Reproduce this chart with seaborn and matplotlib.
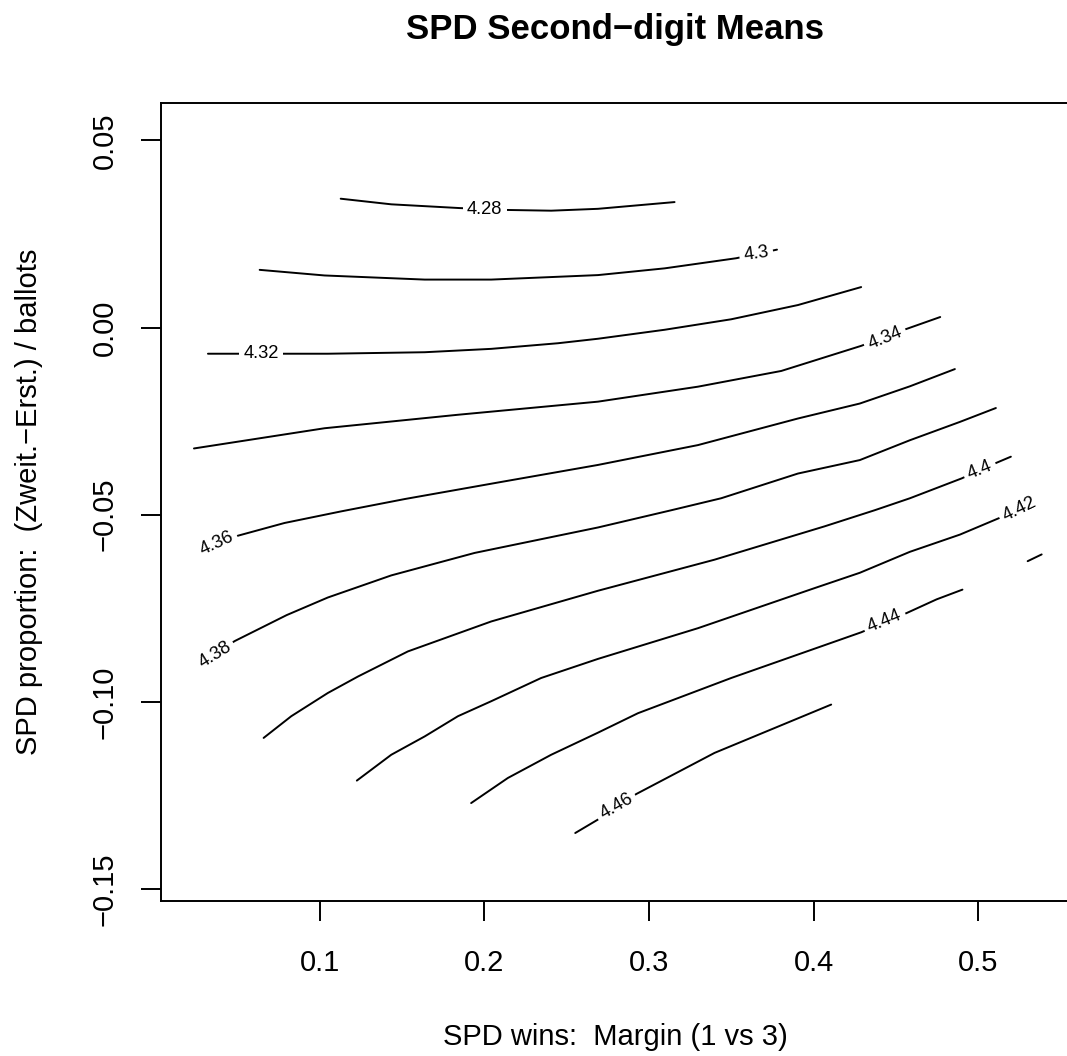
import pandas as pd
import matplotlib
matplotlib.use("Agg")
from matplotlib import pyplot as plt
import seaborn as sns

# contour levels of the second-digit mean
levels = [4.28, 4.30, 4.32, 4.34, 4.36, 4.38, 4.40, 4.42, 4.44, 4.46]

# one polyline per level: x = SPD margin, y = proportion difference
x_428 = [0.1128, 0.1435, 0.1850, 0.2131, 0.2406, 0.2690, 0.3155]
y_428 = [0.0344, 0.0329, 0.0319, 0.0314, 0.0312, 0.0317, 0.0335]

x_430 = [0.0636, 0.1030, 0.1638, 0.2042, 0.2690, 0.3095, 0.3529, 0.3777]
y_430 = [0.0154, 0.0139, 0.0128, 0.0128, 0.0140, 0.0158, 0.0185, 0.0208]

x_432 = [0.0322, 0.0787, 0.1050, 0.1638, 0.2042, 0.2447, 0.2690, 0.3095, 0.3499, 0.3904, 0.4288]
y_432 = [-0.0070, -0.0070, -0.0070, -0.0066, -0.0057, -0.0042, -0.0030, -0.0006, 0.0022, 0.0060, 0.0108]

x_434 = [0.0237, 0.1030, 0.1840, 0.2690, 0.3297, 0.3803, 0.4288, 0.4562, 0.4768]
y_434 = [-0.0323, -0.0269, -0.0233, -0.0198, -0.0158, -0.0116, -0.0049, -0.0004, 0.0028]

x_436 = [0.0273, 0.0504, 0.0787, 0.1131, 0.1518, 0.2095, 0.2690, 0.3297, 0.3904, 0.4280, 0.4584, 0.4857]
y_436 = [-0.0597, -0.0556, -0.0522, -0.0491, -0.0458, -0.0413, -0.0367, -0.0314, -0.0243, -0.0203, -0.0157, -0.0111]

x_438 = [0.0261, 0.0486, 0.0800, 0.1050, 0.1435, 0.1941, 0.2690, 0.3135, 0.3438, 0.3904, 0.4280, 0.4584, 0.4888, 0.5106]
y_438 = [-0.0899, -0.0837, -0.0768, -0.0721, -0.0662, -0.0602, -0.0534, -0.0488, -0.0456, -0.0390, -0.0354, -0.0301, -0.0252, -0.0215]

x_440 = [0.0660, 0.0828, 0.1050, 0.1233, 0.1536, 0.2042, 0.2690, 0.3398, 0.4066, 0.4370, 0.4584, 0.4898, 0.5111, 0.5197]
y_440 = [-0.1096, -0.1038, -0.0976, -0.0932, -0.0865, -0.0785, -0.0703, -0.0620, -0.0531, -0.0488, -0.0456, -0.0403, -0.0361, -0.0345]

x_442 = [0.1226, 0.1435, 0.1638, 0.1840, 0.2042, 0.2345, 0.2690, 0.3297, 0.4005, 0.4280, 0.4584, 0.4888, 0.5120, 0.5343]
y_442 = [-0.1210, -0.1141, -0.1092, -0.1038, -0.0998, -0.0936, -0.0885, -0.0803, -0.0696, -0.0655, -0.0599, -0.0553, -0.0510, -0.0470]

x_444 = [0.1920, 0.2143, 0.2406, 0.2690, 0.2933, 0.3499, 0.4288, 0.4562, 0.4746, 0.4903]
y_444 = [-0.1270, -0.1203, -0.1141, -0.1082, -0.1030, -0.0936, -0.0814, -0.0763, -0.0726, -0.0700]

# short extra piece of the 4.44 contour at the right edge
x_444b = [0.5299, 0.5384]
y_444b = [-0.0624, -0.0606]

x_446 = [0.2552, 0.2690, 0.2922, 0.3398, 0.4106]
y_446 = [-0.1350, -0.1314, -0.1246, -0.1136, -0.1007]

# where each level is labelled, and the line angle there (degrees)
label_x = [0.2002, 0.3651, 0.0645, 0.4434, 0.0373, 0.0364, 0.5009, 0.5252, 0.4431, 0.2801]
label_y = [0.0314, 0.0196, -0.0070, -0.0029, -0.0577, -0.0875, -0.0381, -0.0486, -0.0785, -0.1279]
label_rot = [0, 8, 0, 22, 25, 32, 22, 26, 22, 30]

x_ticks = [0.1, 0.2, 0.3, 0.4, 0.5]
x_tick_labels = ["0.1", "0.2", "0.3", "0.4", "0.5"]
y_ticks = [0.05, 0.0, -0.05, -0.10, -0.15]
y_tick_labels = ["0.05", "0.00", "\u22120.05", "\u22120.10", "\u22120.15"]

pieces = [
    (4.28, x_428, y_428), (4.30, x_430, y_430), (4.32, x_432, y_432),
    (4.34, x_434, y_434), (4.36, x_436, y_436), (4.38, x_438, y_438),
    (4.40, x_440, y_440), (4.42, x_442, y_442), (4.44, x_444, y_444),
    (4.44, x_444b, y_444b), (4.46, x_446, y_446),
]
rows = []
for i, (lev, xs, ys) in enumerate(pieces):
    for a, b in zip(xs, ys):
        rows.append({"margin": a, "prop": b, "level": lev, "piece": i})
df = pd.DataFrame(rows)

sns.set_theme(style="ticks")
plt.rcParams["font.family"] = ["Liberation Sans", "DejaVu Sans"]
plt.rcParams["axes.unicode_minus"] = True

fig = plt.figure(figsize=(10.67, 10.56), dpi=100)
ax = fig.add_axes([0.1506, 0.1468, 0.8522, 0.7557])

sns.lineplot(data=df, x="margin", y="prop", units="piece", estimator=None,
             sort=False, color="black", linewidth=1.4, legend=False, ax=ax,
             solid_joinstyle="round")

for lev, lx, ly, rot in zip(levels, label_x, label_y, label_rot):
    ax.text(lx, ly, f"{lev:g}", rotation=rot, rotation_mode="anchor",
            ha="center", va="center", fontsize=13.2, color="black", zorder=3,
            bbox=dict(facecolor="white", edgecolor="none", pad=3.2))

ax.set_xlim(0.0035, 0.5556)
ax.set_ylim(-0.15315, 0.05997)
ax.set_xticks(x_ticks)
ax.set_xticklabels(x_tick_labels)
ax.set_yticks(y_ticks)
ax.set_yticklabels(y_tick_labels, rotation=90, va="center")

for sp in ax.spines.values():
    sp.set_linewidth(1.4)
    sp.set_color("black")
ax.tick_params(axis="both", direction="out", length=14.4, width=1.4,
               color="black", labelsize=21, labelcolor="black")
ax.tick_params(axis="x", pad=20.5)
ax.tick_params(axis="y", pad=16)

ax.set_xlabel("SPD wins:  Margin (1 vs 3)", fontsize=21, color="black")
ax.set_ylabel("SPD proportion:  (Zweit.\u2212Erst.) / ballots", fontsize=21, color="black")
ax.xaxis.label.set_va("center")
ax.yaxis.label.set_va("center")
ax.xaxis.set_label_coords(0.5, -0.1704)
ax.yaxis.set_label_coords(-0.145, 0.5)

ax.set_title("SPD Second\u2212digit Means", fontsize=25, fontweight="bold",
             color="black", pad=46)

fig.savefig("out.png", dpi=100)
